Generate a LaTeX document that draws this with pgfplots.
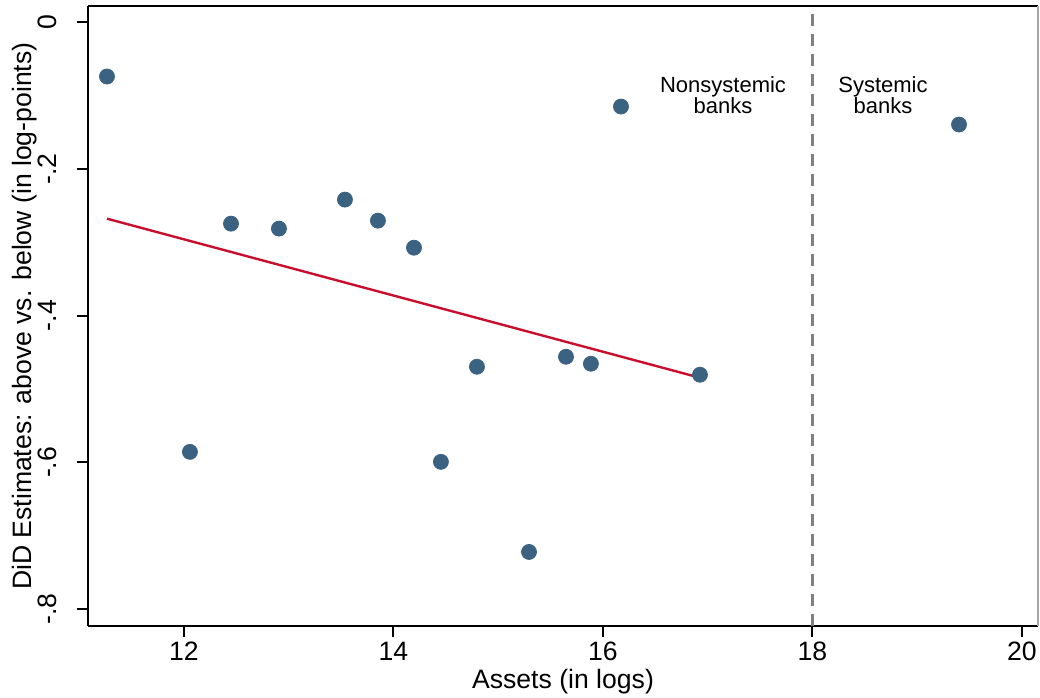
\documentclass[border=0pt]{standalone}
\usepackage{pgfplots}
\pgfplotsset{compat=1.18}
\usepackage{fontspec}
\setmainfont{Liberation Sans}
\definecolor{dotblue}{RGB}{60,98,130}
\definecolor{fitred}{RGB}{200,16,46}
\definecolor{cutgray}{RGB}{128,128,128}
\begin{document}
\begin{tikzpicture}
\begin{axis}[
  scale only axis,
  width=475pt, height=309.75pt,
  xmin=11.084, xmax=20.153,
  ymin=-0.8232, ymax=0.0218,
  axis x line*=bottom, axis y line*=left,
  axis line style={line width=1pt, black},
  every outer x axis line/.append style={-},
  every outer y axis line/.append style={-},
  xtick={12,14,16,18,20},
  ytick={-0.8,-0.6,-0.4,-0.2,0},
  yticklabels={-.8,-.6,-.4,-.2,0},
  tick align=outside,
  major tick length=5.5pt,
  tick style={line width=1pt, black},
  /pgf/number format/assume math mode=true,
  tick label style={font=\fontsize{13.3}{13.3}\selectfont},
  xticklabel style={anchor=base, yshift=-12pt},
  yticklabel style={rotate=90, anchor=base, yshift=10pt},
  label style={font=\fontsize{13.3}{13.3}\selectfont},
  xlabel={Assets (in logs)},
  xlabel style={at={(rel axis cs:0.5,0)}, anchor=base, yshift=-31pt},
  clip=false,
]
% bank-level DiD estimates
\addplot[only marks, mark=*, mark size=3.75pt,
  mark options={fill=dotblue, draw=dotblue}] coordinates {
  (11.265,-0.0737) (12.057,-0.5857) (12.449,-0.2744) (12.907,-0.2812)
  (13.537,-0.2416) (13.852,-0.2703) (14.196,-0.3072) (14.453,-0.5993)
  (14.797,-0.4696) (15.294,-0.7222) (15.647,-0.4560) (15.885,-0.4655)
  (16.172,-0.1147) (16.926,-0.4805) (19.399,-0.1392)
};
% linear fit over nonsystemic banks
\addplot[fitred, line width=1.2pt] coordinates {(11.265,-0.2676) (16.926,-0.4846)};
% systemic threshold
\addplot[cutgray, line width=1.4pt, dash pattern=on 6pt off 4pt]
  coordinates {(18,-0.8232) (18,0.0218)};
% remaining frame sides
\draw[line width=1pt, black] (rel axis cs:0,1) -- (rel axis cs:1,1);
\draw[line width=0.6pt, black!35] (rel axis cs:1,0) -- (rel axis cs:1,1);
\node[align=center, font=\fontsize{11}{10.5}\selectfont] at (axis cs:17.146,-0.099) {Nonsystemic\\banks};
\node[align=center, font=\fontsize{11}{10.5}\selectfont] at (axis cs:18.673,-0.099) {Systemic\\banks};
\node[rotate=90, anchor=base, font=\fontsize{13.3}{13.3}\selectfont]
  at ([xshift=-28pt]rel axis cs:0,0.5) {DiD Estimates: above vs. below (in log-points)};
\coordinate (bl) at (rel axis cs:0,0);
\coordinate (tr) at (rel axis cs:1,1);
\end{axis}
\pgfresetboundingbox
\path[use as bounding box] ([shift={(-44pt,-36pt)}]bl) rectangle ([shift={(1pt,3.25pt)}]tr);
\end{tikzpicture}
\end{document}
